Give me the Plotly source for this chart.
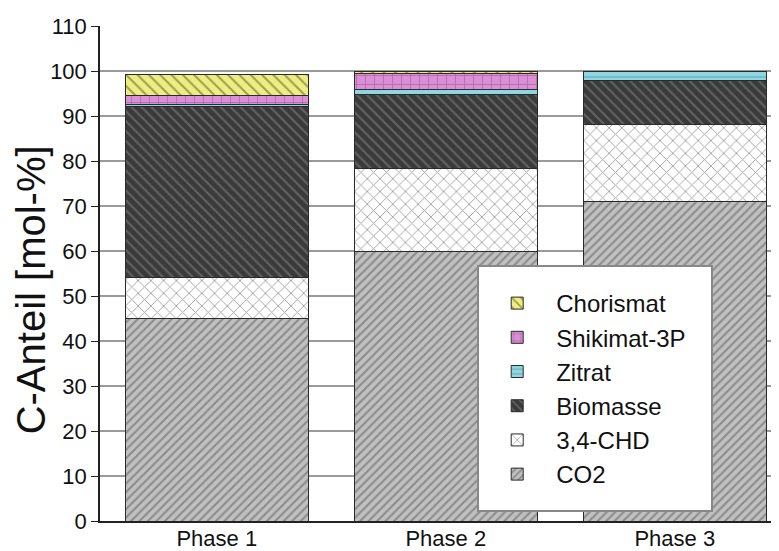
import plotly.graph_objects as go

categories = ["Phase 1", "Phase 2", "Phase 3"]
co2 = [45.0, 60.0, 70.9]
chd = [9.1, 18.4, 17.3]
biomasse = [38.1, 16.3, 9.6]
zitrat = [0.3, 1.1, 2.0]
shikimat = [2.0, 3.7, 0.0]
chorismat = [4.8, 0.5, 0.1]
y_ticks = list(range(0, 111, 10))

series = [
    ("CO2", co2, dict(shape="/", fgcolor="#555555", bgcolor="#c0c0c0", size=6, solidity=0.35)),
    ("3,4-CHD", chd, dict(shape="x", fgcolor="#4a4a4a", bgcolor="#ffffff", size=9, solidity=0.2)),
    ("Biomasse", biomasse, dict(shape="\\", fgcolor="#8a8a8a", bgcolor="#3a3a3a", size=7, solidity=0.3)),
    ("Zitrat", zitrat, dict(shape="-", fgcolor="#3f7f8c", bgcolor="#8fd6e3", size=6, solidity=0.2)),
    ("Shikimat-3P", shikimat, dict(shape="+", fgcolor="#6e3a6c", bgcolor="#db8fd6", size=9, solidity=0.15)),
    ("Chorismat", chorismat, dict(shape="\\", fgcolor="#4a4a2a", bgcolor="#eeee80", size=8, solidity=0.25)),
]

fig = go.Figure()
for name, vals, pat in series:
    fig.add_trace(go.Bar(
        x=categories, y=vals, name=name, width=0.8,
        marker=dict(pattern=pat, line=dict(color="#2a2a2a", width=1)),
    ))

# legend frame
fig.add_shape(type="rect", xref="paper", yref="paper",
              x0=0.5567, x1=0.9013, y0=0.0202, y1=0.5152,
              fillcolor="white", line=dict(color="#888", width=2), layer="above")

fig.add_annotation(text="C-Anteil [mol-%]", xref="paper", yref="paper",
                   x=-0.1016, y=0.466, textangle=-90, showarrow=False,
                   xanchor="center", yanchor="middle", font=dict(size=40))

fig.update_layout(
    width=771, height=543,
    barmode="stack",
    plot_bgcolor="white", paper_bgcolor="white",
    margin=dict(l=92, r=0, t=18, b=30),
    font=dict(family="Liberation Sans, Arial, sans-serif", color="#111"),
    showlegend=True,
    legend=dict(
        x=0.557, y=0.4848, xanchor="left", yanchor="top",
        traceorder="reversed",
        bgcolor="rgba(0,0,0,0)", borderwidth=0,
        font=dict(size=24), tracegroupgap=0,
        itemwidth=68,
    ),
    xaxis=dict(
        range=[-0.51, 2.455], showgrid=False, showline=True, linecolor="#222", linewidth=1.5,
        ticks="", tickfont=dict(size=22), automargin=False, ticklabelstandoff=-3,
    ),
    yaxis=dict(
        range=[0, 110], tickvals=y_ticks, showgrid=True, gridcolor="#9a9a9a", gridwidth=1.5,
        showline=True, linecolor="#222", linewidth=1.5, ticks="outside", ticklen=7, tickcolor="#222",
        tickfont=dict(size=22), automargin=False, zeroline=False,
    ),
)

fig.write_html("out.html")
